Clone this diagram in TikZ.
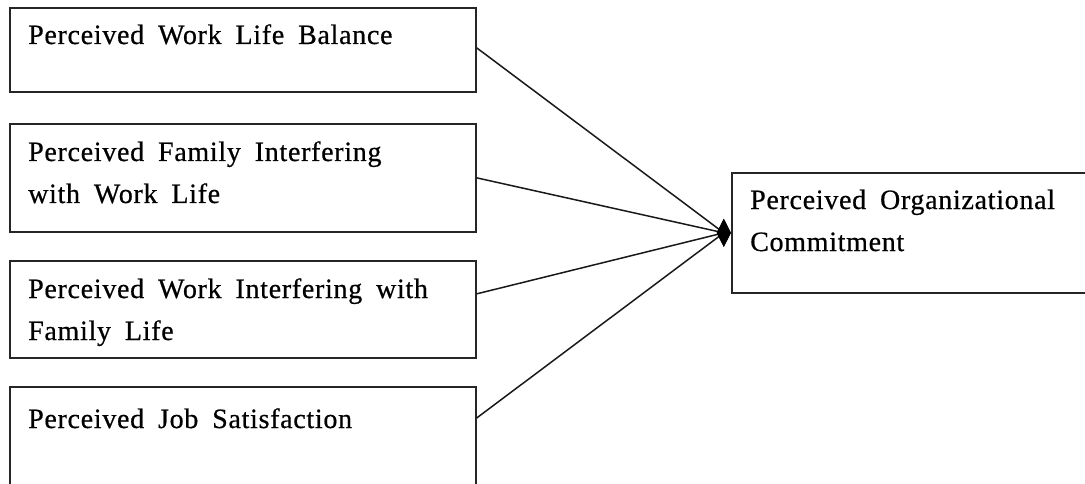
\documentclass[tikz,border=0pt]{standalone}
\usepackage{fontspec}
\setmainfont{Liberation Serif}[LetterSpace=2.5, WordSpace=1.8, FakeBold=0.6]
\usetikzlibrary{shapes.geometric}
\begin{document}
\begin{tikzpicture}[x=1pt,y=1pt,
  box/.style={draw=black!85, line width=1.7pt, rectangle, inner sep=0pt, anchor=north west},
  lbl/.style={anchor=base west, inner sep=0pt, align=left, font=\fontsize{28}{42}\selectfont},
  link/.style={draw=black!90, line width=1.5pt},
  tipshape/.style={diamond, fill=black, inner sep=0pt, aspect=0.5, minimum width=14pt, minimum height=28pt}]
\useasboundingbox (0,0) rectangle (1085,483);
\clip (0,0) rectangle (1085,483);
\node[box, minimum width=466pt, minimum height=84pt] (b1) at (9,476) {};
\node[box, minimum width=466pt, minimum height=108pt] (b2) at (9,360) {};
\node[box, minimum width=466pt, minimum height=97pt] (b3) at (9,223) {};
\node[box, minimum width=466pt, minimum height=130pt] (b4) at (9,97) {};
\node[box, minimum width=380pt, minimum height=120pt] (rb) at (731,311) {};
\node[lbl] (t1) at ([shift={(19,-37)}]b1.north west) {Perceived Work Life Balance};
\node[lbl] (t2) at ([shift={(19,-80)}]b2.north west) {Perceived Family Interfering\\with Work Life};
\node[lbl] (t3) at ([shift={(19,-80)}]b3.north west) {Perceived Work Interfering with\\Family Life};
\node[lbl] (t4) at ([shift={(19,-42)}]b4.north west) {Perceived Job Satisfaction};
\node[lbl] (t5) at ([shift={(19,-79)}]rb.north west) {Perceived Organizational\\Commitment};
\node[tipshape, anchor=east] (tip) at (rb.west) {};
\draw[link] ([yshift=2pt]b1.east) -- (tip.center);
\draw[link] (b2.east) -- (tip.center);
\draw[link] ([yshift=15.5pt]b3.east) -- (tip.center);
\draw[link] ([yshift=-32pt]b4.north east) -- (tip.center);
\fill[black] (tip.north) -- (tip.east) -- (tip.south) -- (tip.west) -- cycle;
\end{tikzpicture}
\end{document}
